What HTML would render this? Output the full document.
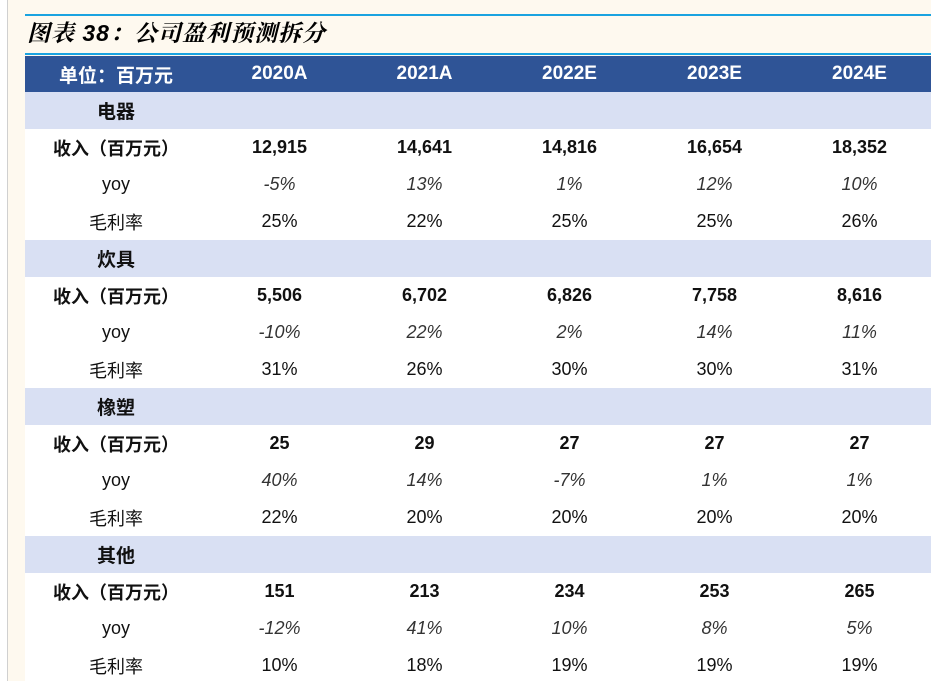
<!DOCTYPE html>
<html><head><meta charset="utf-8">
<style>
body{margin:0;width:931px;height:681px;overflow:hidden;background:#fff;font-family:"Liberation Sans","Noto Sans CJK SC",sans-serif;position:relative}
#cream{position:absolute;left:8px;top:0;width:923px;height:681px;background:#FEF9EF}
#vline{position:absolute;left:7px;top:0;width:1px;height:681px;background:#d0d0d0}
.hl{position:absolute;left:25px;width:906px;height:2px;background:#1AA3E0}
#title{position:absolute;left:27px;top:15px;font-size:23px;font-weight:bold;font-style:italic;font-family:"Liberation Sans","Noto Serif CJK SC",serif;color:#000;letter-spacing:1px}
table{position:absolute;left:25px;top:56px;border-collapse:collapse;table-layout:fixed;width:907px;background:#fff}
td{padding:0;text-align:center;font-size:18px;color:#111;height:37px}
tr.hd td{background:#2F5496;color:#fff;font-weight:bold;font-size:19px;height:36px}
tr.sec td{background:#D9E0F3;font-weight:bold;font-size:19px}
tr.rev td{font-weight:bold}
tr.yoy td{font-style:italic;color:#333}
tr.yoy td:first-child{font-style:normal;color:#111}
</style></head><body>
<div id="cream"></div>
<div id="vline"></div>
<div class="hl" style="top:14px"></div>
<div class="hl" style="top:53px"></div>
<div id="title">图表 38：公司盈利预测拆分</div>
<table>
<colgroup><col style="width:182px"><col style="width:145px"><col style="width:145px"><col style="width:145px"><col style="width:145px"><col style="width:145px"></colgroup>
<tr class="hd"><td>单位：百万元</td><td>2020A</td><td>2021A</td><td>2022E</td><td>2023E</td><td>2024E</td></tr>
<tr class="sec"><td>电器</td><td></td><td></td><td></td><td></td><td></td></tr>
<tr class="rev"><td>收入（百万元）</td><td>12,915</td><td>14,641</td><td>14,816</td><td>16,654</td><td>18,352</td></tr>
<tr class="yoy"><td>yoy</td><td>-5%</td><td>13%</td><td>1%</td><td>12%</td><td>10%</td></tr>
<tr><td>毛利率</td><td>25%</td><td>22%</td><td>25%</td><td>25%</td><td>26%</td></tr>
<tr class="sec"><td>炊具</td><td></td><td></td><td></td><td></td><td></td></tr>
<tr class="rev"><td>收入（百万元）</td><td>5,506</td><td>6,702</td><td>6,826</td><td>7,758</td><td>8,616</td></tr>
<tr class="yoy"><td>yoy</td><td>-10%</td><td>22%</td><td>2%</td><td>14%</td><td>11%</td></tr>
<tr><td>毛利率</td><td>31%</td><td>26%</td><td>30%</td><td>30%</td><td>31%</td></tr>
<tr class="sec"><td>橡塑</td><td></td><td></td><td></td><td></td><td></td></tr>
<tr class="rev"><td>收入（百万元）</td><td>25</td><td>29</td><td>27</td><td>27</td><td>27</td></tr>
<tr class="yoy"><td>yoy</td><td>40%</td><td>14%</td><td>-7%</td><td>1%</td><td>1%</td></tr>
<tr><td>毛利率</td><td>22%</td><td>20%</td><td>20%</td><td>20%</td><td>20%</td></tr>
<tr class="sec"><td>其他</td><td></td><td></td><td></td><td></td><td></td></tr>
<tr class="rev"><td>收入（百万元）</td><td>151</td><td>213</td><td>234</td><td>253</td><td>265</td></tr>
<tr class="yoy"><td>yoy</td><td>-12%</td><td>41%</td><td>10%</td><td>8%</td><td>5%</td></tr>
<tr><td>毛利率</td><td>10%</td><td>18%</td><td>19%</td><td>19%</td><td>19%</td></tr>
</table>
</body></html>
